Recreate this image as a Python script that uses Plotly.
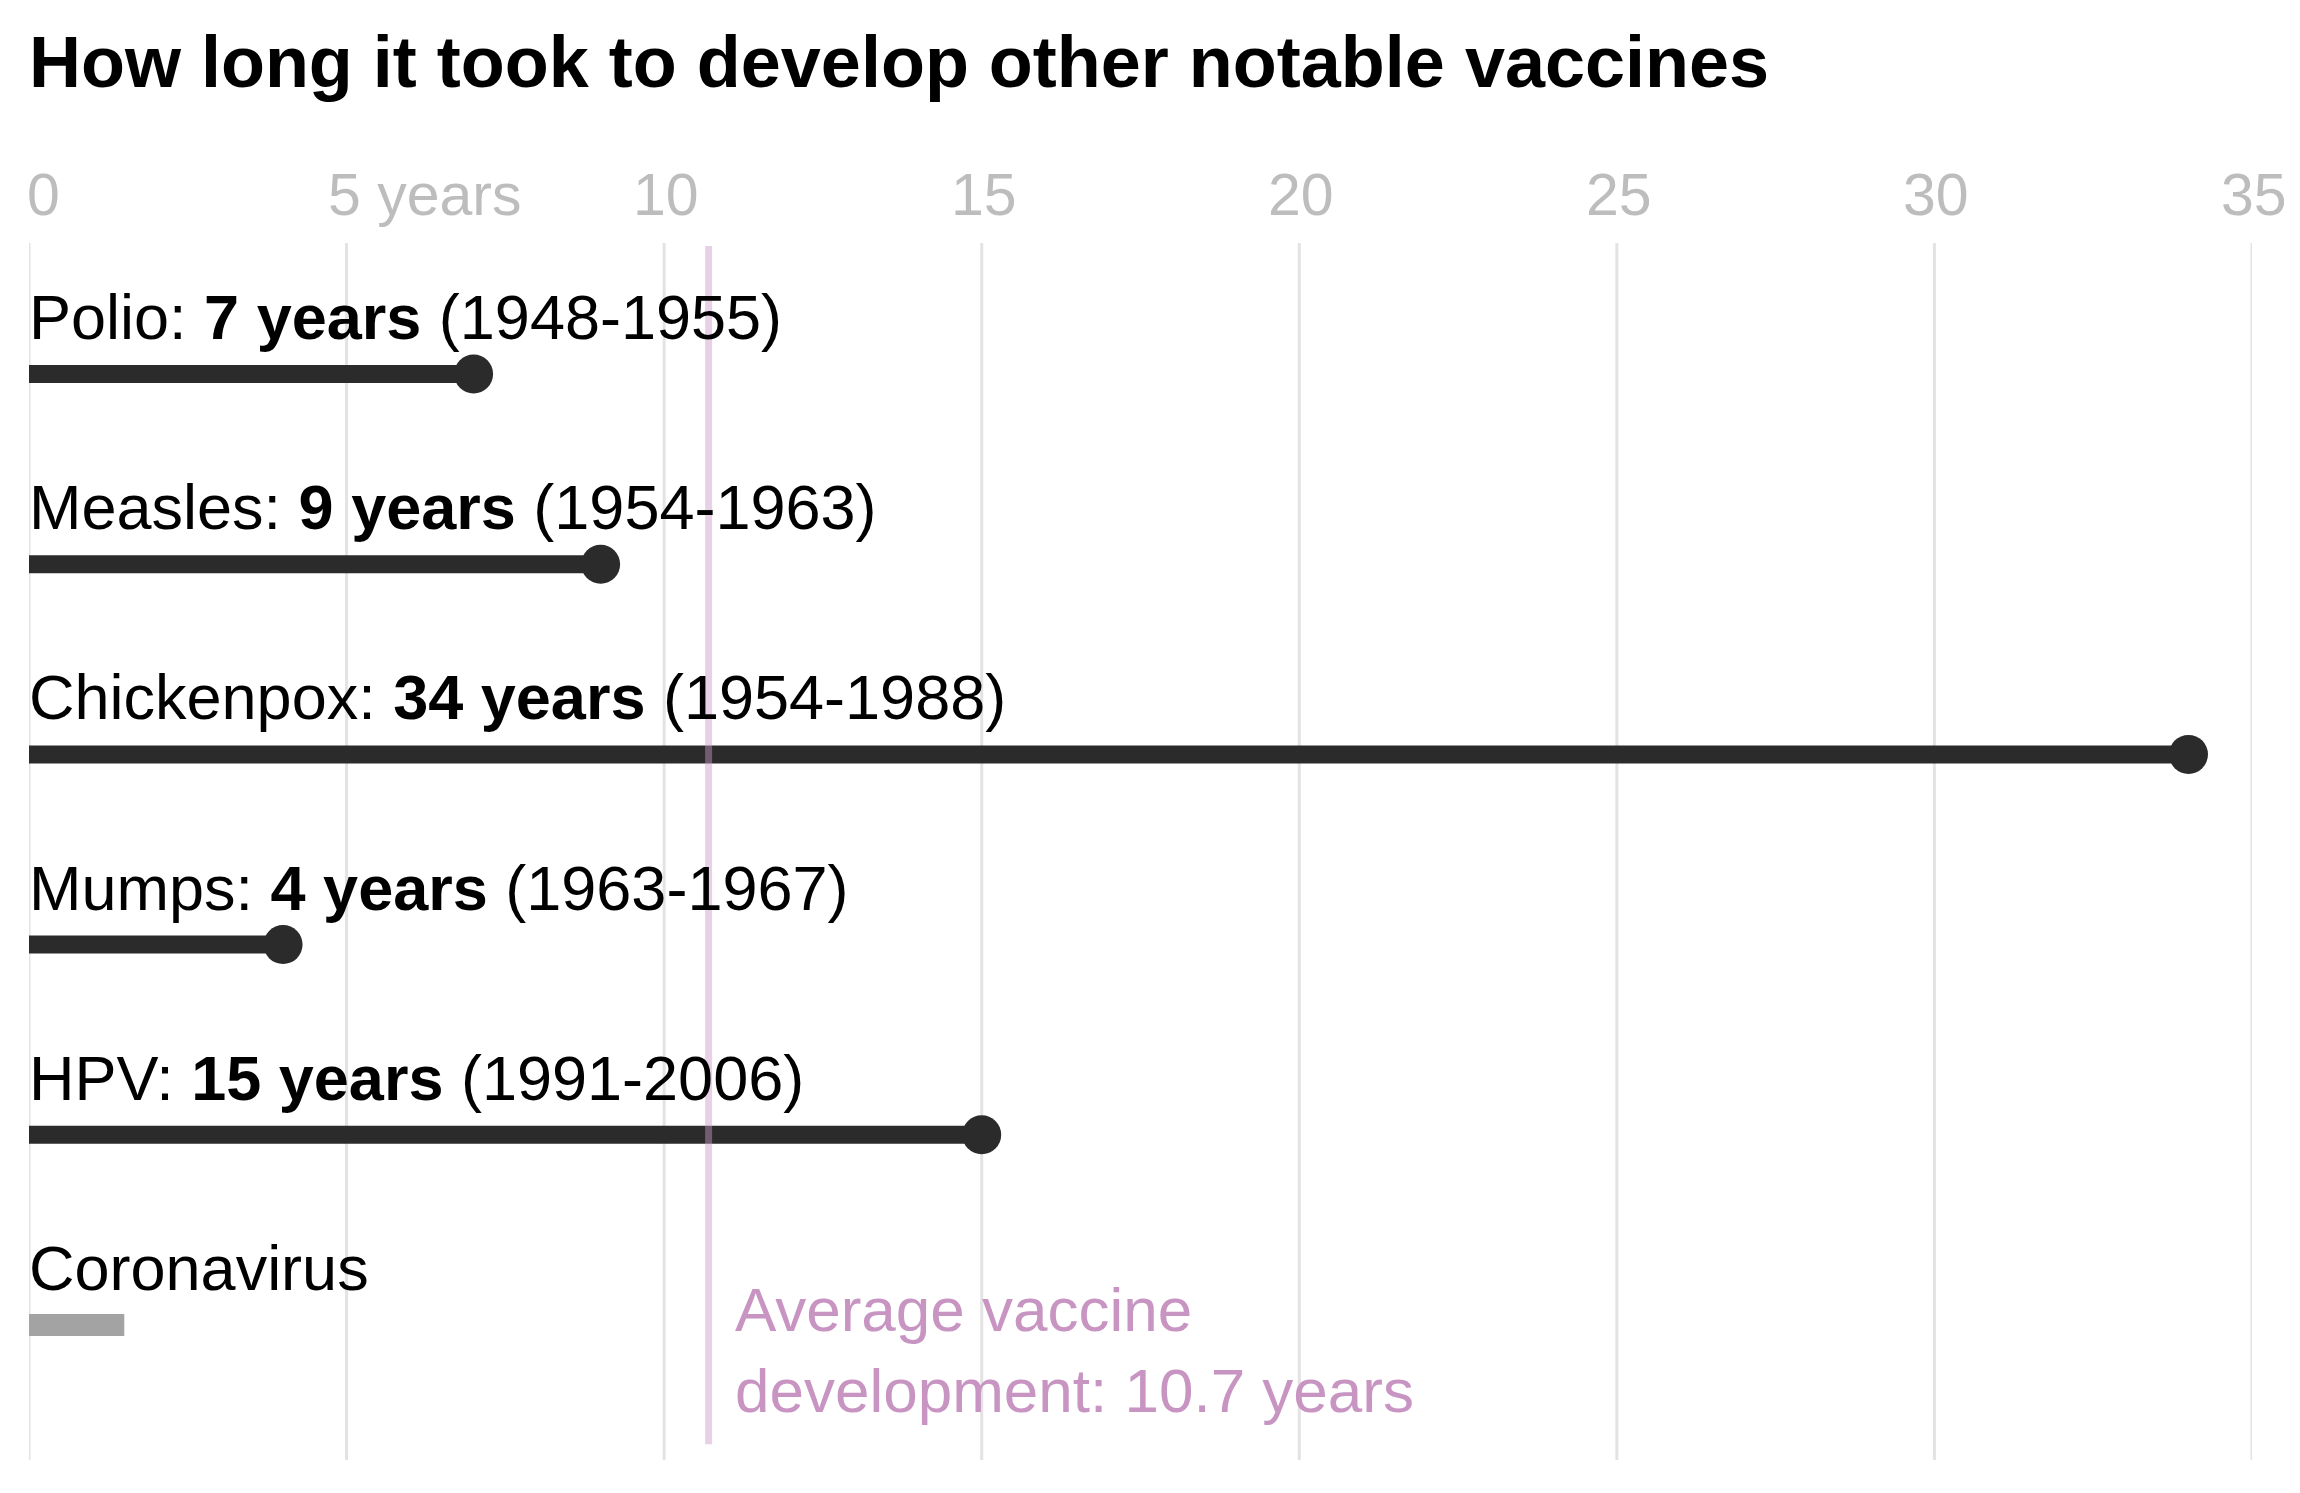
import plotly.graph_objects as go

# --- data ---
vaccines = ["Polio", "Measles", "Chickenpox", "Mumps", "HPV"]
years = [7, 9, 34, 4, 15]
periods = ["1948-1955", "1954-1963", "1954-1988", "1963-1967", "1991-2006"]
corona_name = "Coronavirus"
corona_years = 1.5
average_years = 10.7
tick_vals = [0, 5, 10, 15, 20, 25, 30, 35]
tick_text = ["0", "5 years", "10", "15", "20", "25", "30", "35"]

FONT = "Liberation Sans, Arial, sans-serif"
DARK = "#2b2b2b"
PINK_TEXT = "#c895c3"

fig = go.Figure()

rows = list(range(len(vaccines)))

# lollipop stems + dots
for i, (name, y) in enumerate(zip(vaccines, years)):
    fig.add_trace(go.Scatter(
        x=[0, y], y=[i, i],
        mode="lines",
        line=dict(color=DARK, width=18),
        hoverinfo="skip",
        showlegend=False,
    ))
fig.add_trace(go.Scatter(
    x=years, y=rows,
    mode="markers",
    marker=dict(color=DARK, size=39, line=dict(width=0)),
    cliponaxis=False,
    showlegend=False,
    hovertemplate="%{x} years<extra></extra>",
))

# coronavirus bar (still in progress)
corona_row = len(vaccines)
fig.add_trace(go.Scatter(
    x=[0, corona_years], y=[corona_row, corona_row],
    mode="lines",
    line=dict(color="#a3a3a3", width=22),
    hoverinfo="skip",
    showlegend=False,
))

# gridlines
for v in tick_vals:
    fig.add_shape(type="line", xref="x", yref="paper", x0=v, x1=v, y0=0, y1=1,
                  line=dict(color="#e3e3e3", width=3), layer="below")

# average line, drawn on top
fig.add_shape(type="line", xref="x", yref="paper",
              x0=average_years, x1=average_years, y0=0.013, y1=0.9975,
              line=dict(color="rgba(205,150,200,0.45)", width=7), layer="above")

# tick labels above the grid
for v, t in zip(tick_vals, tick_text):
    if v == 0:
        anchor, shift = "left", -4
    elif t.endswith("years"):
        anchor, shift = "left", -21
    else:
        anchor, shift = "center", 2
    fig.add_annotation(x=v, y=1, xref="x", yref="paper", text=t,
                       showarrow=False, xanchor=anchor, yanchor="middle",
                       xshift=shift, yshift=48,
                       font=dict(family=FONT, size=59, color="#bdbdbd"))

# row labels
for i, (name, y, p) in enumerate(zip(vaccines, years, periods)):
    fig.add_annotation(x=0, y=i, xref="x", yref="y",
                       text=f"{name}: <b>{y} years</b> ({p})",
                       showarrow=False, xanchor="left", yanchor="middle",
                       xshift=-2, yshift=57,
                       font=dict(family=FONT, size=63, color="#000000"))
fig.add_annotation(x=0, y=corona_row, xref="x", yref="y", text=corona_name,
                   showarrow=False, xanchor="left", yanchor="middle",
                   xshift=-2, yshift=57,
                   font=dict(family=FONT, size=63, color="#000000"))

# average annotation
fig.add_annotation(x=average_years, y=corona_row, xref="x", yref="y",
                   text="Average vaccine<br>development: " + str(average_years) + " years",
                   showarrow=False, xanchor="left", yanchor="middle", align="left",
                   xshift=24, yshift=-25,
                   font=dict(family=FONT, size=62, color=PINK_TEXT))

fig.update_layout(
    width=2300, height=1493,
    margin=dict(l=21, r=56, t=235, b=41),
    paper_bgcolor="white", plot_bgcolor="white",
    title=dict(text="<b>How long it took to develop other notable vaccines</b>",
               x=0.0091, xanchor="left", y=0.9638, yanchor="middle",
               font=dict(family=FONT, size=72, color="#000000")),
    xaxis=dict(range=[0, 35], showgrid=False, zeroline=False,
               showticklabels=False, showline=False, fixedrange=True),
    yaxis=dict(range=[5.710, -0.689], showgrid=False, zeroline=False,
               showticklabels=False, showline=False, fixedrange=True),
    showlegend=False,
)

fig.write_html("out.html")
